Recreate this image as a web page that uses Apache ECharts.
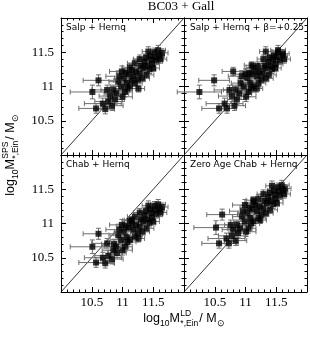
<!DOCTYPE html>
<html><head><meta charset="utf-8">
<script src="https://cdn.jsdelivr.net/npm/echarts@6/dist/echarts.min.js"></script>
<style>html,body{margin:0;padding:0;background:#fff}#c{width:310px;height:337px}</style>
</head><body><div id="c"></div>
<script>
const chartTitle = 'BC03 + Gall';
const panelNames = ['Salp + Hernq', 'Salp + Hernq + \u03b2=+0.25', 'Chab + Hernq', 'Zero Age Chab + Hernq'];
const tickLabels = [10.5, 11, 11.5];
const axisMin = 10, axisMax = 12, axisStep = 0.5;

const xSalp = [10.51,10.61,10.57,10.72,10.77,10.80,10.88,10.85,10.93,10.99,11.04,11.07,11.15,11.15,11.20,11.26,11.28,11.34,11.39,11.42,11.47,11.53,11.58,11.64,11.50,10.98,11.02,11.10,11.12,11.18,11.22,11.25,11.30,11.32,11.36,11.40,11.44,11.45,11.48,11.55,11.60,11.62,10.90,10.95,11.05,11.08,10.83,10.75,11.12,11.28,11.38,11.52,11.20,11.00,10.68];
const ySalp = [10.92,11.09,10.68,10.67,10.78,10.86,10.81,10.95,11.07,11.22,10.92,11.05,11.09,11.24,11.34,10.97,11.19,11.27,11.17,11.51,11.39,11.43,11.53,11.49,11.27,11.00,11.12,11.18,11.00,11.15,11.22,11.10,11.30,11.12,11.36,11.30,11.25,11.45,11.33,11.38,11.45,11.40,10.90,11.15,11.20,10.97,10.72,10.95,11.28,11.40,11.42,11.50,11.05,10.85,10.75];

const xSalpBeta = [10.25,10.49,10.57,10.70,10.78,10.80,10.86,10.84,10.92,11.00,11.05,11.08,11.10,11.16,11.20,11.18,11.28,11.33,11.38,11.33,11.45,11.50,11.53,11.61,11.48,10.97,11.03,11.10,11.13,11.19,11.23,11.26,11.31,11.33,11.37,11.41,11.43,11.46,11.49,11.56,11.60,11.63,10.90,10.94,11.06,11.09,10.82,10.74,11.13,11.29,11.39,11.53,11.21,11.01,10.66];
const ySalpBeta = [10.92,11.09,10.68,10.68,10.86,11.22,10.81,10.95,11.05,11.18,10.92,11.05,11.31,11.22,11.30,10.97,11.19,11.27,11.17,11.51,11.39,11.43,11.53,11.48,11.27,11.00,11.12,11.18,11.00,11.15,11.22,11.10,11.30,11.12,11.36,11.30,11.25,11.45,11.33,11.38,11.45,11.40,10.90,11.15,11.20,10.97,10.72,10.95,11.28,11.40,11.42,11.50,11.05,10.85,10.75];

const xChab = [10.51,10.61,10.57,10.72,10.77,10.85,10.91,10.86,10.93,10.99,11.04,11.07,11.15,11.15,11.20,11.26,11.28,11.34,11.39,11.42,11.47,11.53,11.58,11.64,11.50,10.98,11.02,11.10,11.12,11.18,11.22,11.25,11.30,11.32,11.36,11.40,11.44,11.45,11.48,11.55,11.60,11.62,10.90,10.95,11.05,11.08,10.83,10.75,11.12,11.28,11.38,11.52,11.20,11.00,10.68];
const yChab = [10.66,10.85,10.43,10.42,10.53,10.61,10.57,10.70,10.83,10.98,10.66,10.80,11.05,11.00,11.10,10.78,10.95,11.03,10.93,11.26,11.15,11.20,11.28,11.24,11.03,10.76,10.88,10.94,10.76,10.91,10.98,10.86,11.06,10.88,11.12,11.06,11.01,11.21,11.09,11.14,11.21,11.16,10.66,10.91,10.96,10.73,10.48,10.71,11.04,11.16,11.18,11.26,10.81,10.61,10.50];

const xZeroChab = [10.52,10.62,10.57,10.73,10.78,10.80,10.88,10.86,10.94,10.99,11.05,11.08,11.13,11.16,11.21,11.24,11.29,11.35,11.40,11.43,11.48,11.54,11.59,11.64,11.51,10.99,11.03,11.11,11.13,11.19,11.23,11.26,11.31,11.33,11.37,11.41,11.45,11.46,11.49,11.56,11.61,11.63,10.91,10.96,11.06,11.09,10.84,10.76,11.13,11.29,11.39,11.53,11.21,11.01,10.69];
const yZeroChab = [10.94,11.13,10.71,10.71,10.82,10.91,10.86,10.98,11.10,11.27,10.93,11.08,11.34,11.27,11.36,11.05,11.22,11.30,11.20,11.55,11.42,11.47,11.56,11.51,11.30,11.03,11.15,11.21,11.03,11.18,11.25,11.13,11.33,11.15,11.39,11.33,11.28,11.48,11.36,11.41,11.48,11.43,10.93,11.18,11.23,11.00,10.75,10.98,11.31,11.43,11.45,11.53,11.08,10.88,10.78];

const xErr = [0.36,0.25,0.28,0.15,0.22,0.18,0.15,0.20,0.15,0.20,0.12,0.15,0.12,0.15,0.12,0.10,0.12,0.10,0.12,0.10,0.10,0.10,0.12,0.10,0.10,0.18,0.15,0.14,0.12,0.12,0.14,0.12,0.10,0.12,0.10,0.12,0.10,0.10,0.12,0.10,0.08,0.10,0.20,0.22,0.15,0.14,0.18,0.25,0.12,0.10,0.10,0.10,0.12,0.16,0.30];
const yErr = [0.10,0.08,0.07,0.07,0.08,0.06,0.07,0.07,0.06,0.08,0.07,0.06,0.05,0.07,0.06,0.05,0.06,0.06,0.05,0.07,0.06,0.06,0.07,0.06,0.05,0.06,0.06,0.05,0.06,0.05,0.06,0.05,0.06,0.05,0.06,0.05,0.06,0.06,0.05,0.06,0.05,0.06,0.07,0.08,0.06,0.06,0.07,0.07,0.06,0.06,0.05,0.06,0.05,0.07,0.08];

const panels = [
  {x: xSalp, y: ySalp},
  {x: xSalpBeta, y: ySalpBeta},
  {x: xChab, y: yChab},
  {x: xZeroChab, y: yZeroChab}
];

// layout
const grids = [
  {left: 61, top: 18, width: 123, height: 137},
  {left: 184, top: 18, width: 123, height: 137},
  {left: 61, top: 155, width: 123, height: 137},
  {left: 184, top: 155, width: 123, height: 137}
];
const serif = '"Liberation Serif", "Times New Roman", serif';
const sans = '"Liberation Sans", Arial, sans-serif';
const labelSans = '"DejaVu Sans", sans-serif';

function labelFmt(v) {
  return tickLabels.some(t => Math.abs(t - v) < 1e-6) ? String(v) : '';
}
function makeAxis(dim, gi, pos, showLabel) {
  return {
    type: 'value', gridIndex: gi, position: pos,
    min: axisMin, max: axisMax, interval: axisStep,
    axisLine: {show: true, onZero: false, lineStyle: {color: '#000', width: 1}},
    axisTick: {show: true, inside: true, length: 5, lineStyle: {color: '#000', width: 1}},
    minorTick: {show: true, splitNumber: 5, length: 2.5, lineStyle: {color: '#000', width: 1}},
    splitLine: {show: false}, minorSplitLine: {show: false},
    axisLabel: {show: showLabel, formatter: labelFmt, color: '#000', fontFamily: serif, fontSize: 13,
      margin: dim === 'x' ? 4 : 7, showMinLabel: true, showMaxLabel: true, hideOverlap: false}
  };
}
const xAxes = [], yAxes = [];
grids.forEach((g, i) => {
  xAxes.push(makeAxis('x', i, 'bottom', i >= 2));
  xAxes.push(makeAxis('x', i, 'top', false));
  yAxes.push(makeAxis('y', i, 'left', i % 2 === 0));
  yAxes.push(makeAxis('y', i, 'right', false));
});

function renderErr(params, api) {
  const x = api.value(0), y = api.value(1), ex = api.value(2), ey = api.value(3);
  const l = api.coord([x - ex, y]), r = api.coord([x + ex, y]);
  const b = api.coord([x, y - ey]), t = api.coord([x, y + ey]);
  const c = 2.5;
  const st = {stroke: '#6e6e6e', lineWidth: 1, fill: null};
  return {type: 'group', children: [
    {type: 'line', shape: {x1: l[0], y1: l[1], x2: r[0], y2: r[1]}, style: st},
    {type: 'line', shape: {x1: l[0], y1: l[1] - c, x2: l[0], y2: l[1] + c}, style: st},
    {type: 'line', shape: {x1: r[0], y1: r[1] - c, x2: r[0], y2: r[1] + c}, style: st},
    {type: 'line', shape: {x1: b[0], y1: b[1], x2: t[0], y2: t[1]}, style: st},
    {type: 'line', shape: {x1: b[0] - c, y1: b[1], x2: b[0] + c, y2: b[1]}, style: st},
    {type: 'line', shape: {x1: t[0] - c, y1: t[1], x2: t[0] + c, y2: t[1]}, style: st}
  ]};
}

const series = [];
panels.forEach((p, i) => {
  const pts = p.x.map((xv, k) => [xv, p.y[k], xErr[k], yErr[k]]);
  series.push({type: 'line', xAxisIndex: 2 * i, yAxisIndex: 2 * i, data: [[axisMin, axisMin], [axisMax, axisMax]],
    symbol: 'none', silent: true, lineStyle: {color: '#000', width: 0.8}, z: 1});
  series.push({type: 'custom', xAxisIndex: 2 * i, yAxisIndex: 2 * i, renderItem: renderErr,
    encode: {x: 0, y: 1}, data: pts, silent: true, z: 2});
  series.push({type: 'scatter', xAxisIndex: 2 * i, yAxisIndex: 2 * i, data: pts.map(d => [d[0], d[1]]),
    symbol: 'rect', symbolSize: 6, itemStyle: {color: '#000'}, silent: true, z: 3});
});

// measured composite axis titles
const ctx = document.createElement('canvas').getContext('2d');
function tw(t, s) { ctx.font = s + 'px ' + sans; return ctx.measureText(t).width; }
function buildTitle(sup, sub) {
  const big = 12.5, small = 8.5;
  const parts = [
    {t: 'log', s: big, dy: 0},
    {t: '10', s: small, dy: 5},
    {t: 'M', s: big, dy: 0, pad: 0.5},
    {stack: [{t: sup, s: small, dy: -5}, {t: sub, s: small, dy: 5}], pad: 1},
    {t: '/ M', s: big, dy: 0},
    {t: '\u2299', s: small, dy: 5}
  ];
  let W = 0;
  parts.forEach(p => {
    if (p.stack) p.w = Math.max(...p.stack.map(q => tw(q.t, q.s)));
    else p.w = tw(p.t, p.s);
    W += p.w + (p.pad || 0);
  });
  let x = -W / 2;
  const children = [];
  parts.forEach(p => {
    const items = p.stack || [p];
    items.forEach(q => children.push({type: 'text', x: x, y: q.dy,
      style: {text: q.t, font: q.s + 'px ' + sans, fill: '#000', align: 'left', verticalAlign: 'middle'}}));
    x += p.w + (p.pad || 0);
  });
  return children;
}

const graphic = [
  {type: 'text', x: 181, y: 7, style: {text: chartTitle, font: '13px ' + serif, fill: '#000', align: 'center', verticalAlign: 'middle'}},
  {type: 'group', x: 184, y: 319, children: buildTitle('LD', '*,Ein')},
  {type: 'group', x: 11, y: 155, rotation: Math.PI / 2, children: buildTitle('SPS', '*,Ein')}
];
const labelPos = [[66, 28], [190, 28], [66, 165], [190, 165]];
panelNames.forEach((n, i) => {
  graphic.push({type: 'text', x: labelPos[i][0], y: labelPos[i][1], z: 10,
    style: {text: n, font: '9px ' + labelSans, fill: '#000', align: 'left', verticalAlign: 'middle'}});
});

const chart = echarts.init(document.getElementById('c'), null, {renderer: 'canvas'});
chart.setOption({
  animation: false,
  backgroundColor: '#fff',
  grid: grids.map(g => Object.assign({containLabel: false, outerBoundsMode: 'none'}, g)),
  xAxis: xAxes,
  yAxis: yAxes,
  series: series,
  graphic: graphic
});
</script>
</body></html>
